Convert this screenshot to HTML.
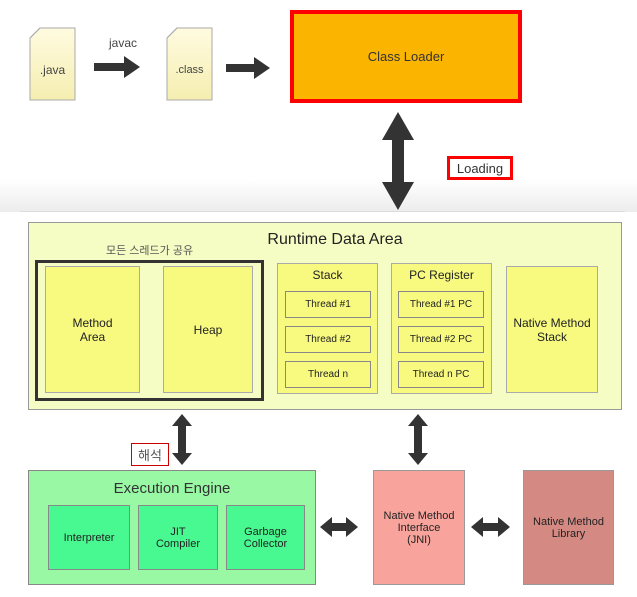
<!DOCTYPE html>
<html><head><meta charset="utf-8"><style>
body{margin:0;width:637px;height:597px;background:#fff;position:relative;overflow:hidden;font-family:"Liberation Sans","Noto Sans CJK KR",sans-serif;}
.a{position:absolute;box-sizing:border-box;}
.c{display:flex;align-items:center;justify-content:center;text-align:center;color:#222;}
.y{background:#f8fa80;border:1px solid #aaa;}
</style></head><body>
<div class="a" style="left:0;top:180px;width:637px;height:32px;background:linear-gradient(#fff,#ececec);"></div>
<div class="a" style="left:20px;top:211px;width:605px;height:1px;background:#ddd"></div>
<svg class="a" style="left:0;top:0" width="637" height="597">
<defs><linearGradient id="d" x1="0" y1="0" x2="0" y2="1"><stop offset="0" stop-color="#fffbe0"/><stop offset="1" stop-color="#f5eeb0"/></linearGradient></defs>
<path d="M40 28H75V100H30V38Z" fill="url(#d)" stroke="#aaa"/><path d="M30 38L40 28" stroke="#aaa"/>
<path d="M177 28H212V100H167V38Z" fill="url(#d)" stroke="#aaa"/><path d="M167 38L177 28" stroke="#aaa"/>
<g fill="#333">
<path d="M94 63H124V56L140 67L124 78V71H94Z"/>
<path d="M226 64H254V57L270 68L254 79V72H226Z"/>
<path d="M398 112L414 140H404V182H414L398 210L382 182H392V140H382Z"/>
<path d="M182 414L192 426H186V453H192L182 465L172 453H178V426H172Z"/>
<path d="M418 414L428 426H422V453H428L418 465L408 453H414V426H408Z"/>
<path d="M320 527L332 517V523H346V517L358 527L346 537V531H332V537Z"/>
<path d="M471 527L483 517V523H498V517L510 527L498 537V531H483V537Z"/>
</g>
</svg>
<div class="a c" style="left:30px;top:60px;width:45px;height:20px;font-size:12px;color:#444">.java</div>
<div class="a c" style="left:167px;top:60px;width:45px;height:20px;font-size:11px;color:#444">.class</div>
<div class="a" style="left:109px;top:36px;font-size:12px;color:#444">javac</div>
<div class="a c" style="left:290px;top:10px;width:232px;height:93px;background:#fbb400;border:4px solid #f00;font-size:13px;color:#333">Class Loader</div>
<div class="a c" style="left:447px;top:156px;width:66px;height:24px;border:3px solid #f00;background:#fff;font-size:13px;color:#333">Loading</div>

<div class="a" style="left:28px;top:222px;width:594px;height:188px;background:#f6fdc4;border:1px solid #999"></div>
<div class="a c" style="left:200px;top:229px;width:270px;height:22px;font-size:16px">Runtime Data Area</div>
<div class="a" style="left:106px;top:242px;font-size:11px;color:#555">모든 스레드가 공유</div>
<div class="a" style="left:35px;top:260px;width:229px;height:141px;border:3px solid #333"></div>
<div class="a c y" style="left:45px;top:266px;width:95px;height:127px;font-size:12px">Method<br>Area</div>
<div class="a c y" style="left:163px;top:266px;width:90px;height:127px;font-size:12px">Heap</div>
<div class="a y" style="left:277px;top:263px;width:101px;height:131px"></div>
<div class="a c" style="left:277px;top:266px;width:101px;height:18px;font-size:12px">Stack</div>
<div class="a c y" style="left:285px;top:291px;width:86px;height:27px;font-size:10px;border-color:#888">Thread #1</div>
<div class="a c y" style="left:285px;top:326px;width:86px;height:27px;font-size:10px;border-color:#888">Thread #2</div>
<div class="a c y" style="left:285px;top:361px;width:86px;height:27px;font-size:10px;border-color:#888">Thread n</div>
<div class="a y" style="left:391px;top:263px;width:101px;height:131px"></div>
<div class="a c" style="left:391px;top:266px;width:101px;height:18px;font-size:12px">PC Register</div>
<div class="a c y" style="left:398px;top:291px;width:86px;height:27px;font-size:10px;border-color:#888">Thread #1 PC</div>
<div class="a c y" style="left:398px;top:326px;width:86px;height:27px;font-size:10px;border-color:#888">Thread #2 PC</div>
<div class="a c y" style="left:398px;top:361px;width:86px;height:27px;font-size:10px;border-color:#888">Thread n PC</div>
<div class="a c y" style="left:506px;top:266px;width:92px;height:127px;font-size:12px">Native Method<br>Stack</div>

<div class="a c" style="left:131px;top:443px;width:38px;height:23px;border:1px solid #c00;background:#fff;font-size:13px;color:#555">해석</div>
<div class="a" style="left:28px;top:470px;width:288px;height:115px;background:#98f8a4;border:1px solid #888"></div>
<div class="a c" style="left:28px;top:477px;width:288px;height:22px;font-size:15px;color:#333">Execution Engine</div>
<div class="a c" style="left:48px;top:505px;width:82px;height:65px;background:#48f890;border:1px solid #888;font-size:11px">Interpreter</div>
<div class="a c" style="left:138px;top:505px;width:80px;height:65px;background:#48f890;border:1px solid #888;font-size:11px">JIT<br>Compiler</div>
<div class="a c" style="left:226px;top:505px;width:79px;height:65px;background:#48f890;border:1px solid #888;font-size:11px">Garbage<br>Collector</div>
<div class="a c" style="left:373px;top:470px;width:92px;height:115px;background:#f8a49c;border:1px solid #999;font-size:11px">Native Method<br>Interface<br>(JNI)</div>
<div class="a c" style="left:523px;top:470px;width:91px;height:115px;background:#d48a82;border:1px solid #999;font-size:11px">Native Method<br>Library</div>
</body></html>
